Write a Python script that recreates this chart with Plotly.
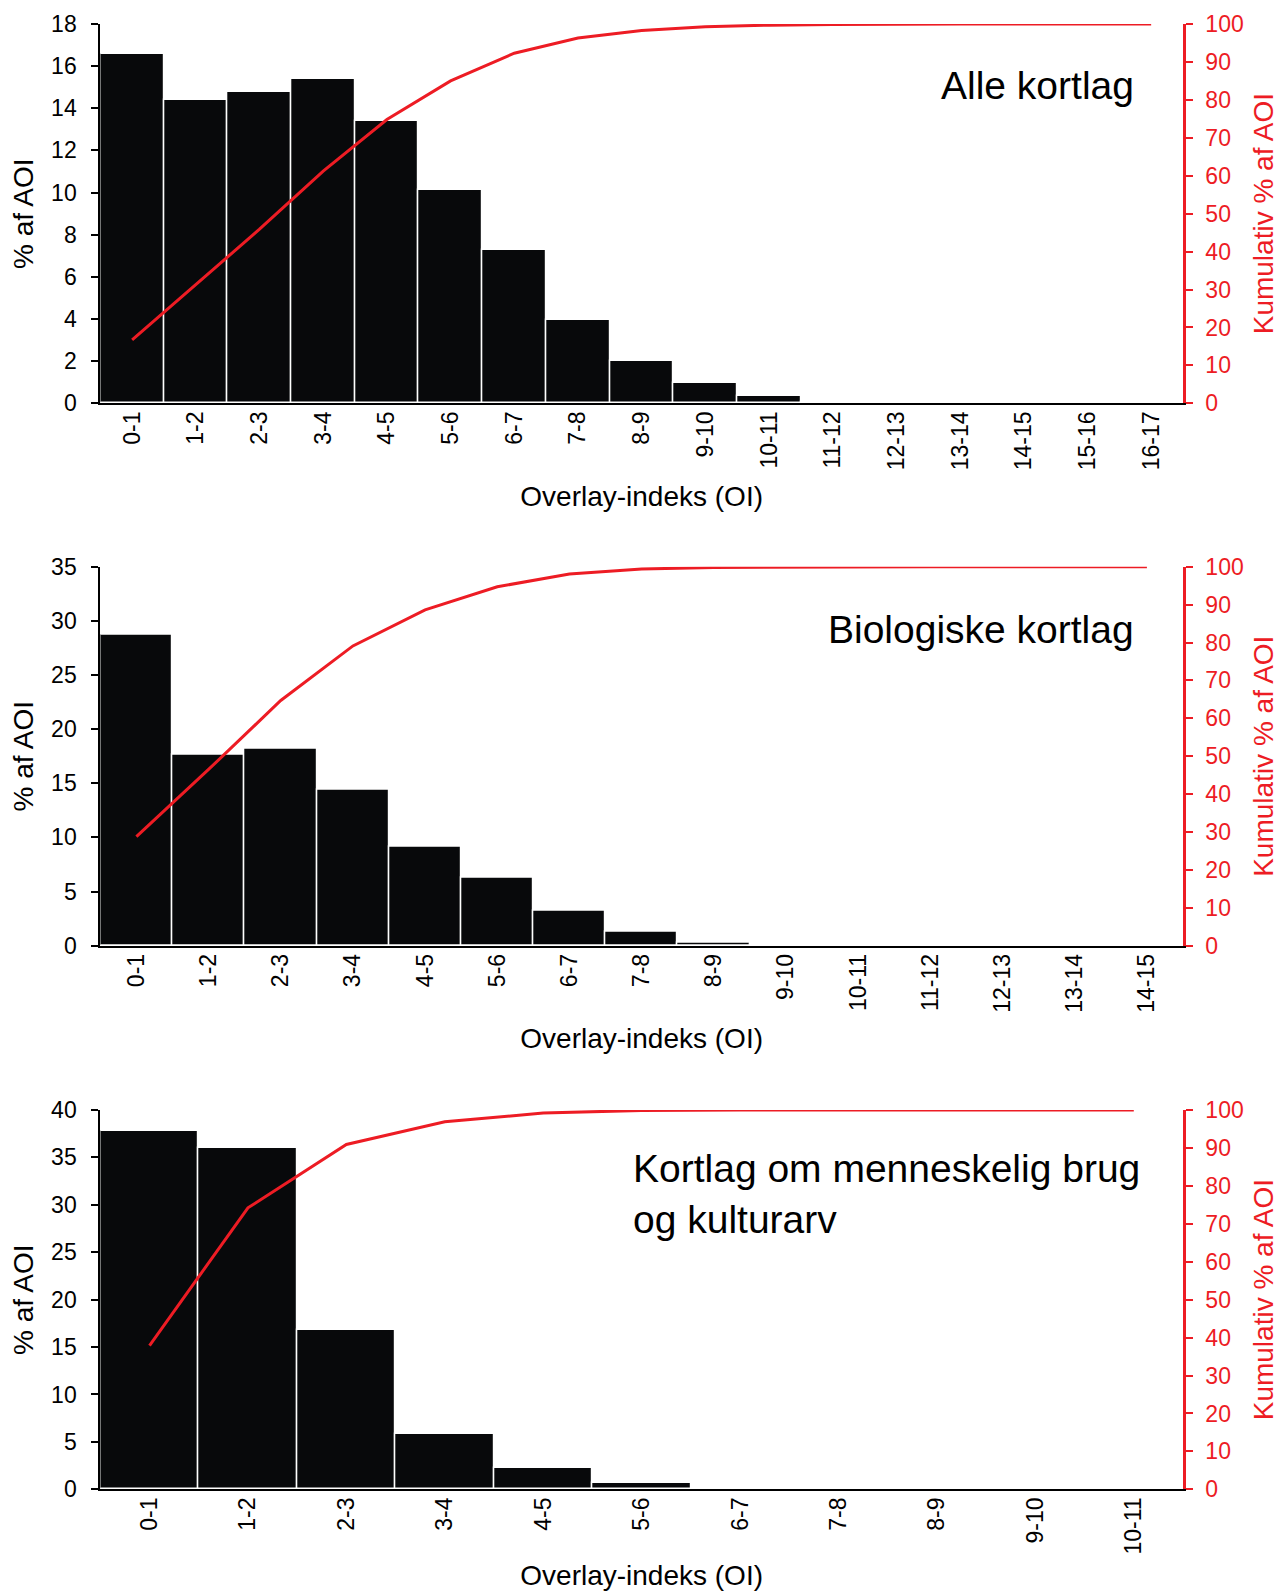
import plotly.graph_objects as go

# ---------------- data ----------------
cats1 = ["0-1", "1-2", "2-3", "3-4", "4-5", "5-6", "6-7", "7-8", "8-9", "9-10",
         "10-11", "11-12", "12-13", "13-14", "14-15", "15-16", "16-17"]
pct1 = [16.57, 14.41, 14.77, 15.39, 13.38, 10.12, 7.28, 3.96, 2.01, 0.98,
        0.36, 0.08, 0.02, 0.01, 0.0, 0.0, 0.0]
cum1 = [16.7, 31.3, 45.9, 61.2, 74.8, 85.0, 92.3, 96.3, 98.3, 99.3,
        99.7, 99.9, 100, 100, 100, 100, 100]

cats2 = ["0-1", "1-2", "2-3", "3-4", "4-5", "5-6", "6-7", "7-8", "8-9", "9-10",
         "10-11", "11-12", "12-13", "13-14", "14-15"]
pct2 = [28.7, 17.6, 18.2, 14.4, 9.1, 6.3, 3.2, 1.3, 0.3, 0.05,
        0.02, 0.01, 0.0, 0.0, 0.0]
cum2 = [28.8, 46.5, 64.7, 79.1, 88.6, 94.7, 98.1, 99.4, 99.8, 99.9,
        100, 100, 100, 100, 100]

cats3 = ["0-1", "1-2", "2-3", "3-4", "4-5", "5-6", "6-7", "7-8", "8-9", "9-10", "10-11"]
pct3 = [37.8, 36.0, 16.8, 5.8, 2.2, 0.7, 0.05, 0.02, 0.01, 0.0, 0.0]
cum3 = [37.9, 74.2, 90.9, 96.9, 99.2, 99.9, 100, 100, 100, 100, 100]

panel_titles = ["Alle kortlag", "Biologiske kortlag",
                "Kortlag om menneskelig brug<br>og kulturarv"]
ymax = [18, 35, 40]
ydtick = [2, 5, 5]

x_title = "Overlay-indeks (OI)"
y_title = "% af AOI"
y2_title = "Kumulativ % af AOI"

# ---------------- style ----------------
W, H = 1283, 1591
FONT = "Liberation Sans, Arial, sans-serif"
BAR = "#08090b"
RED = "#ED1C24"
TICK_SIZE = 23
TITLE_SIZE = 28
ANNOT_SIZE = 39

x_dom = [92.3 / W, 1175 / W]
panels_px = [(16, 395.3), (558.7, 937.7), (1102, 1481.3)]
x_title_standoff = [17, 17, 12]

fig = go.Figure()
datasets = [(cats1, pct1, cum1), (cats2, pct2, cum2), (cats3, pct3, cum3)]

for i, (cats, pct, cum) in enumerate(datasets):
    xa = "x" if i == 0 else f"x{i + 1}"
    ya = "y" if i == 0 else f"y{2 * i + 1}"
    ya2 = f"y{2 * i + 2}"
    fig.add_trace(go.Bar(x=cats, y=pct, xaxis=xa, yaxis=ya,
                         marker=dict(color=BAR, line=dict(color="white", width=1.5)),
                         showlegend=False))
    fig.add_trace(go.Scatter(x=cats, y=cum, xaxis=xa, yaxis=ya2, mode="lines",
                             line=dict(color=RED, width=3), showlegend=False))

    top, bot = panels_px[i]
    ydom = [1 - bot / H, 1 - top / H]
    xkey = "xaxis" if i == 0 else f"xaxis{i + 1}"
    ykey = "yaxis" if i == 0 else f"yaxis{2 * i + 1}"
    y2key = f"yaxis{2 * i + 2}"
    fig.update_layout({
        xkey: dict(domain=x_dom, anchor=ya, type="category",
                   range=[-0.5, len(cats) - 0.5],
                   showline=True, linecolor="black", linewidth=2,
                   ticks="", ticklen=0, tickangle=-90, showgrid=False, zeroline=False,
                   ticklabelstandoff=-3,
                   tickfont=dict(size=TICK_SIZE, color="black", family=FONT),
                   title=dict(text=x_title, standoff=x_title_standoff[i],
                              font=dict(size=TITLE_SIZE, color="black", family=FONT)),
                   automargin=False),
        ykey: dict(domain=ydom, anchor=xa, range=[0, ymax[i]], dtick=ydtick[i],
                   showline=True, linecolor="black", linewidth=2,
                   ticks="outside", ticklen=7, tickwidth=2, tickcolor="black",
                   showgrid=False, zeroline=False, ticklabelstandoff=10,
                   tickfont=dict(size=TICK_SIZE, color="black", family=FONT),
                   title=dict(text=y_title, standoff=10,
                              font=dict(size=TITLE_SIZE, color="black", family=FONT)),
                   automargin=False),
        y2key: dict(domain=ydom, anchor=xa, overlaying=ya, side="right",
                    range=[0, 100], dtick=10,
                    showline=True, linecolor=RED, linewidth=2.5,
                    ticks="outside", ticklen=7, tickwidth=2, tickcolor=RED,
                    showgrid=False, zeroline=False, ticklabelstandoff=8,
                    tickfont=dict(size=TICK_SIZE, color=RED, family=FONT),
                    title=dict(text=y2_title, standoff=11,
                               font=dict(size=TITLE_SIZE, color=RED, family=FONT)),
                    automargin=False),
    })

annots = [
    dict(text=panel_titles[0], x=1128 / W, y=1 - 78 / H, xanchor="right", yanchor="middle"),
    dict(text=panel_titles[1], x=1128 / W, y=1 - 621 / H, xanchor="right", yanchor="middle"),
    dict(text=panel_titles[2], x=623 / W, y=1 - 1186 / H, xanchor="left", yanchor="middle",
         align="left"),
]
for a in annots:
    a.update(xref="paper", yref="paper", showarrow=False,
             font=dict(size=ANNOT_SIZE, color="black", family=FONT))

fig.update_layout(
    width=W, height=H,
    margin=dict(l=0, r=0, t=0, b=0),
    paper_bgcolor="white", plot_bgcolor="white",
    bargap=0,
    font=dict(family=FONT, color="black"),
    annotations=annots,
)

fig.write_html("out.html")
